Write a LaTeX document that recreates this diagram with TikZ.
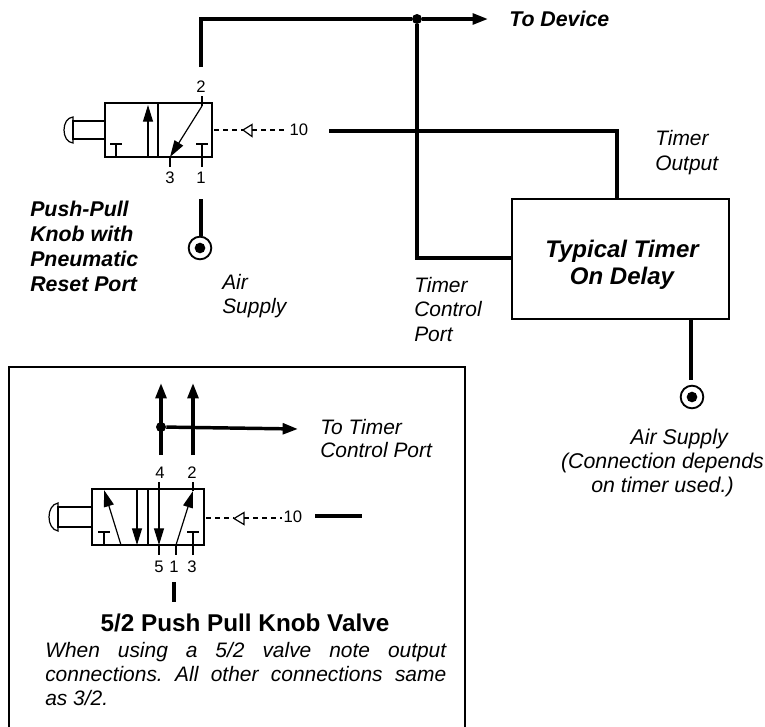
\documentclass[tikz,border=0pt]{standalone}
\usepackage{fontspec}
\setmainfont{Liberation Sans}
\usetikzlibrary{arrows.meta,calc}
\tikzset{
    pipe/.style={line width=2.6pt},
    pipearrow/.style={pipe, -{Stealth[length=11.5pt,width=8pt,inset=0pt]}},
    symb/.style={line width=0.9pt},
    symbarrow/.style={symb, -{Stealth[length=12.5pt,width=7.5pt,inset=0pt]}},
    pilot/.style={line width=0.8pt, dash pattern=on 3.75pt off 3pt},
    tee/.style={circle, fill=black, inner sep=0pt, minimum size=7.5pt},
    supply/.style={circle, draw=black, line width=1.4pt, inner sep=0pt, minimum size=17pt},
    supplydot/.style={circle, fill=black, inner sep=0pt, minimum size=8pt},
    portnum/.style={font=\fontsize{12.5}{13}\selectfont, inner sep=0pt},
    note/.style={font=\fontsize{15.7}{18.5}\selectfont\itshape, align=left, anchor=west, inner sep=0pt},
    bnote/.style={font=\fontsize{16}{18.75}\selectfont\bfseries\itshape, align=left, anchor=west, inner sep=0pt},
}
\begin{document}
\begin{tikzpicture}[x=0.75pt,y=-0.75pt]

    \useasboundingbox (0,0) rectangle (765,726);

    % timer and supplies
    \node[draw, line width=1.1pt, minimum width=162.75pt, minimum height=90pt, inner sep=0pt] (timer) at (620.5,259) {};
    \node[font=\fontsize{18}{20.25}\selectfont\bfseries\itshape, align=center, inner sep=0pt] (timerlabel) at (622,265) {Typical Timer\\On Delay};
    \node[tee] (junction) at (417,19) {};
    \node[supply] (supplya) at (200,248) {};
    \node[supplydot] at (supplya) {};
    \node[supply] (supplyb) at (692,397) {};
    \node[supplydot] at (supplyb) {};
    \coordinate (valveout) at (201,67);
    \coordinate (corner) at (201,19);
    \coordinate (device) at (488,19);
    \coordinate (controlbend) at (417,258);
    \coordinate (reset) at (329,131);
    \coordinate (outputbend) at (617,131);
    \coordinate (supplyatop) at (201,199);
    \coordinate (supplybtop) at (691,380);

    % pipes
    \draw[pipe, line join=miter] (valveout) -- (corner) -- (junction);
    \draw[pipearrow] (junction) -- (device);
    \draw[pipe] (junction) -- (controlbend) -- (controlbend -| timer.west);
    \draw[pipe] (reset) -- (outputbend) -- (outputbend |- timer.north);
    \draw[pipe] (supplyatop) -- (supplyatop |- supplya.north);
    \draw[pipe] (supplybtop |- timer.south) -- (supplybtop);

    \node[bnote] at (509,19) {To Device};
    \node[note] at (655,152.5) {Timer\\Output};
    \node[note] at (414,309.5) {Timer\\Control\\Port};
    \node[note] at (222,296) {Air\\Supply};
    \node[bnote] at (30,246.5) {Push-Pull\\Knob with\\Pneumatic\\Reset Port};
    \node[font=\fontsize{16}{18}\selectfont\itshape, align=center, inner sep=0pt] at (662.5,462.5) {\hspace*{25pt}Air Supply\\(Connection depends\\on timer used.)};

    % 3/2 valve
    \draw[symb] (105,103) rectangle (212,157);
    \draw[symb] (158,103) -- (158,157);
    \draw[symb] (105,121) -- (73,121) -- (73,139) -- (105,139);
    \draw[symb] (73,117) .. controls (61,118) and (61,142) .. (73,143) -- cycle;
    \draw[symbarrow] (148,157) -- (148,105);
    \draw[symb] (116,157) -- (116,144) (110,144) -- (122,144);
    \draw[symb] (202,167) -- (202,144) (196,144) -- (208,144);
    \draw[symb] (202,96) -- (202,106);
    \draw[symbarrow] (202,106) -- (170,157);
    \draw[symb] (170,157) -- (170,167);
    \draw[pilot] (214,130) -- (243,130);
    \draw[symb, fill=white] (243,130) -- (252,124.5) -- (252,136.5) -- cycle;
    \draw[pilot] (252,130) -- (288,130);
    \node[portnum] at (201,87) {2};
    \node[portnum] at (170,178) {3};
    \node[portnum] at (201,178) {1};
    \node[portnum] at (299,130) {10};

    % 5/2 inset
    \draw[line width=1.1pt] (9,367) rectangle (465,730);
    \node[tee] (split) at (161,427) {};
    \coordinate (foura) at (161,455);
    \coordinate (fourb) at (161,383);
    \coordinate (twoa) at (193,455);
    \coordinate (twob) at (193,383);
    \coordinate (totimer) at (298,429);
    \draw[pipearrow] (foura) -- (fourb);
    \draw[pipearrow] (twoa) -- (twob);
    \draw[pipearrow] (split) -- (totimer);
    \coordinate (stuba) at (174,582);
    \coordinate (stubb) at (174,602);
    \coordinate (resta) at (315,516);
    \coordinate (restb) at (362,516);
    \draw[pipe] (stuba) -- (stubb);
    \draw[pipe] (resta) -- (restb);

    \draw[symb] (92,489) rectangle (204,545);
    \draw[symb] (148,489) -- (148,545);
    \draw[symb] (92,507) -- (58,507) -- (58,527) -- (92,527);
    \draw[symb] (58,503) .. controls (46,505) and (46,529) .. (58,531) -- cycle;
    \draw[symbarrow] (121,545) -- (104,490);
    \draw[symb] (104,545) -- (104,532) (98,532) -- (110,532);
    \draw[symbarrow] (137,490) -- (137,545);
    \draw[symbarrow] (159,482) -- (159,545);
    \draw[symb] (159,545) -- (159,555);
    \draw[symbarrow] (176,545) -- (193,491);
    \draw[symb] (176,545) -- (176,555) (193,491) -- (193,482);
    \draw[symb] (193,555) -- (193,532) (187,532) -- (199,532);
    \draw[pilot] (206,518) -- (234,518);
    \draw[symb, fill=white] (234,518.5) -- (244,512.5) -- (244,524.5) -- cycle;
    \draw[pilot] (244,518) -- (282,518);
    \node[portnum] at (160,473) {4};
    \node[portnum] at (192,473) {2};
    \node[portnum] at (159,567) {5};
    \node[portnum] at (174,567) {1};
    \node[portnum] at (192,567) {3};
    \node[portnum] at (293,517) {10};

    \node[note, font=\fontsize{15.7}{17.25}\selectfont\itshape] at (320,439) {To Timer\\Control Port};
    \node[font=\fontsize{18.2}{20}\selectfont\bfseries, inner sep=0pt] at (245,623) {5/2 Push Pull Knob Valve};
    \node[font=\fontsize{15.7}{18}\selectfont\itshape, text width=300.75pt, align=justify, inner sep=0pt, anchor=west] at (45,674)
        {\hyphenpenalty=10000\exhyphenpenalty=10000\tolerance=10000\frenchspacing When using a 5/2 valve note output connections. All other connections same\break as 3/2.\par};

\end{tikzpicture}
\end{document}
